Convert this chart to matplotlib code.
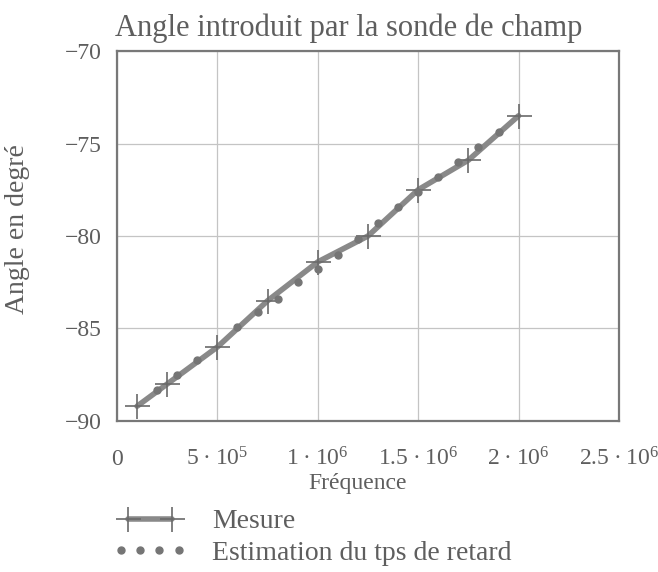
import matplotlib
matplotlib.use("Agg")
import matplotlib.pyplot as plt
from matplotlib.legend_handler import HandlerLine2D
from matplotlib.ticker import FixedLocator

plt.rcParams["font.family"] = ["Liberation Serif", "DejaVu Serif"]
plt.rcParams["mathtext.fontset"] = "custom"
plt.rcParams["mathtext.rm"] = "Liberation Serif"
plt.rcParams["mathtext.it"] = "Liberation Serif:italic"

# Measured phase angle of the field probe
freq_mes = [1.0e5, 2.5e5, 5.0e5, 7.5e5, 1.0e6, 1.25e6, 1.5e6, 1.75e6, 2.0e6]
angle_mes = [-89.2, -88.0, -86.0, -83.5, -81.4, -80.0, -77.5, -75.9, -73.5]

# Angle estimated from the delay time
freq_est = [2e5, 3e5, 4e5, 6e5, 7e5, 8e5, 9e5, 1.0e6, 1.1e6, 1.2e6, 1.3e6,
            1.4e6, 1.5e6, 1.6e6, 1.7e6, 1.8e6, 1.9e6]
angle_est = [-88.3, -87.5, -86.7, -84.9, -84.1, -83.4, -82.5, -81.8, -81.0,
             -80.15, -79.3, -78.45, -77.6, -76.8, -76.0, -75.2, -74.4]

xticks = [0, 5e5, 1e6, 1.5e6, 2e6, 2.5e6]
xtick_labels = ["0", "5\u2009·\u200910$^5$", "1\u2009·\u200910$^6$",
                "1.5\u2009·\u200910$^6$", "2\u2009·\u200910$^6$",
                "2.5\u2009·\u200910$^6$"]
yticks = [-90, -85, -80, -75, -70]
ytick_labels = ["\u221290", "\u221285", "\u221280", "\u221275", "\u221270"]

txt = "#5e5e5e"
fig = plt.figure(figsize=(6.58, 5.72), dpi=100)
ax = fig.add_axes([0.1778, 0.264, 0.7629, 0.6468])

mes, = ax.plot(freq_mes, angle_mes, color="#898989", lw=4, marker="+",
               markersize=18, mew=1.2, mec="#6a6a6a", solid_capstyle="round",
               label="Mesure", zorder=3)
est, = ax.plot(freq_est, angle_est, ls="none", marker="o", markersize=5,
               color="#757575", label="Estimation du tps de retard", zorder=4)

ax.set_xlim(0, 2.5e6)
ax.set_ylim(-90, -70)
ax.xaxis.set_major_locator(FixedLocator(xticks))
ax.set_xticklabels(xtick_labels)
ax.set_yticks(yticks)
ax.set_yticklabels(ytick_labels)
ax.tick_params(length=0, labelsize=17, labelcolor=txt)
ax.tick_params(axis="x", pad=32)
ax.tick_params(axis="y", pad=11)
for lbl in ax.get_xticklabels():
    lbl.set_verticalalignment("baseline")
ax.grid(True, color="#c4c4c4", lw=0.9)
for s in ax.spines.values():
    s.set_color("#787878")
    s.set_linewidth(1.6)

ax.set_title("Angle introduit par la sonde de champ", fontsize=22, color=txt,
             pad=11, x=0.462)
ax.set_xlabel("Fréquence", fontsize=17, color=txt, va="baseline")
ax.xaxis.set_label_coords(0.479, -0.184)
ax.set_ylabel("Angle en degré", fontsize=20, color=txt, va="center", ha="center")
ax.yaxis.set_label_coords(-0.199, 0.519)

leg = ax.legend(handles=[mes, est],
                handler_map={mes: HandlerLine2D(numpoints=2, marker_pad=0.55),
                             est: HandlerLine2D(numpoints=4)},
                loc="upper left", bbox_to_anchor=(113 / 658, 1 - 509 / 572),
                bbox_transform=fig.transFigure, frameon=False, fontsize=20,
                borderpad=0, borderaxespad=0, handlelength=2.66,
                handletextpad=0.9, labelspacing=0.22)
for t in leg.get_texts():
    t.set_color(txt)

fig.savefig("out.png", dpi=100)
